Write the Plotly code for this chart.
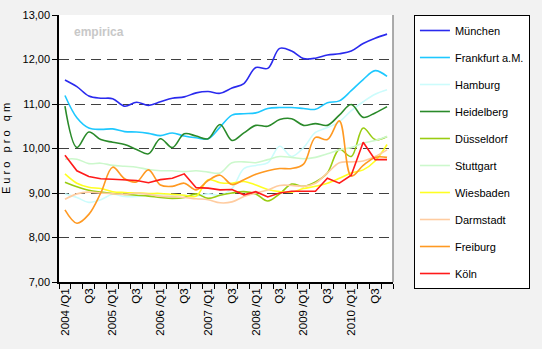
import plotly.graph_objects as go

years = [2004, 2005, 2006, 2007, 2008, 2009, 2010]
quarters = [f"{y}/Q{q}" for y in years for q in range(1, 5)]
tick_labels = [(f"{y} /Q1" if q == 1 else ("Q3" if q == 3 else "")) for y in years for q in range(1, 5)]

muenchen = [11.54, 11.39, 11.18, 11.13, 11.12, 10.95, 11.04, 10.97, 11.05, 11.13, 11.16, 11.25, 11.28, 11.24,
            11.36, 11.46, 11.82, 11.80, 12.25, 12.19, 12.02, 12.03, 12.10, 12.13, 12.19, 12.36, 12.48, 12.57]
frankfurt = [11.19, 10.69, 10.46, 10.43, 10.44, 10.38, 10.37, 10.34, 10.29, 10.35, 10.28, 10.24, 10.22, 10.48,
             10.75, 10.78, 10.80, 10.90, 10.92, 10.92, 10.90, 10.88, 11.03, 11.07, 11.30, 11.55, 11.75, 11.62]
hamburg = [8.98, 8.90, 8.79, 8.85, 8.97, 8.92, 8.92, 8.95, 8.97, 8.95, 8.95, 8.93, 8.98, 8.95,
           9.10, 9.55, 9.62, 9.68, 10.05, 9.82, 10.02, 10.36, 10.47, 10.60, 10.85, 11.05, 11.22, 11.32]
heidelberg = [10.95, 10.02, 10.37, 10.20, 10.14, 10.09, 9.98, 9.88, 10.22, 10.02, 10.33, 10.28, 10.22, 10.54,
              10.18, 10.35, 10.52, 10.50, 10.65, 10.67, 10.52, 10.56, 10.52, 10.75, 10.99, 10.70, 10.80, 10.94]
duesseldorf = [9.24, 9.14, 9.06, 9.02, 8.99, 8.97, 8.95, 8.93, 8.90, 8.88, 8.90, 8.98, 8.88, 8.95,
               9.00, 9.03, 8.98, 8.82, 8.98, 9.20, 9.15, 9.25, 9.45, 9.98, 9.82, 10.46, 10.20, 10.27]
stuttgart = [9.76, 9.76, 9.66, 9.67, 9.62, 9.60, 9.58, 9.53, 9.50, 9.50, 9.48, 9.50, 9.47, 9.45,
             9.68, 9.70, 9.68, 9.75, 9.82, 9.80, 9.77, 9.80, 9.88, 9.97, 10.02, 10.12, 10.18, 10.27]
wiesbaden = [9.43, 9.22, 9.13, 9.10, 9.03, 9.01, 9.00, 8.99, 8.99, 8.97, 8.95, 8.93, 9.30, 9.23,
             9.22, 9.26, 9.18, 9.08, 9.03, 9.02, 9.10, 9.15, 9.22, 9.33, 9.45, 9.52, 9.72, 10.09]
darmstadt = [8.86, 8.98, 9.02, 9.00, 8.98, 8.97, 9.00, 8.97, 8.93, 8.92, 8.90, 8.87, 8.85, 8.78,
             8.80, 8.92, 9.00, 9.07, 9.17, 9.17, 9.15, 9.22, 9.45, 9.68, 9.70, 9.72, 9.82, 9.97]
freiburg = [8.62, 8.32, 8.52, 9.00, 9.58, 9.32, 9.25, 9.52, 9.18, 9.15, 9.22, 9.07, 9.28, 9.40,
            9.19, 9.30, 9.42, 9.50, 9.55, 9.55, 9.65, 10.25, 10.20, 10.62, 9.38, 9.62, 9.80, 9.80]
koeln = [9.85, 9.50, 9.37, 9.32, 9.31, 9.30, 9.28, 9.23, 9.30, 9.33, 9.43, 9.12, 9.11, 9.07,
         9.08, 8.96, 9.03, 8.91, 9.00, 9.04, 9.04, 9.04, 9.33, 9.22, 9.40, 10.14, 9.75, 9.75]

series = [
    ("München", muenchen, "#2a2aee", "spline"),
    ("Frankfurt a.M.", frankfurt, "#1ec8ff", "spline"),
    ("Hamburg", hamburg, "#ccfcfc", "spline"),
    ("Heidelberg", heidelberg, "#2a8a2a", "spline"),
    ("Düsseldorf", duesseldorf, "#99cc11", "spline"),
    ("Stuttgart", stuttgart, "#ccf8cc", "spline"),
    ("Wiesbaden", wiesbaden, "#ffff22", "spline"),
    ("Darmstadt", darmstadt, "#ffcca0", "spline"),
    ("Freiburg", freiburg, "#ff9922", "spline"),
    ("Köln", koeln, "#ff1a1a", "linear"),
]

fig = go.Figure()
for name, vals, color, shape in series:
    fig.add_trace(go.Scatter(
        x=quarters, y=vals, name=name, mode="lines",
        line=dict(color=color, width=1.6, shape=shape, smoothing=1.0),
        legendgroup=name,
    ))

font = "Liberation Sans, Arial, sans-serif"
fig.update_layout(
    width=542, height=349,
    margin=dict(l=59, r=144, t=15, b=67),
    paper_bgcolor="#f2f2f2", plot_bgcolor="white",
    font=dict(family=font, size=11, color="black"),
    separators=",.",
    showlegend=True,
    legend=dict(
        x=1.41, xanchor="right", y=1.0, yanchor="top",
        bgcolor="white", bordercolor="black", borderwidth=1,
        font=dict(size=11, family=font), tracegroupgap=8,
        itemwidth=30, maxheight=330,
    ),
    xaxis=dict(
        type="category", tickmode="array", tickvals=quarters, ticktext=tick_labels,
        tickangle=-90, tickson="boundaries", ticks="outside", ticklen=5, tickcolor="black",
        showline=True, linecolor="black", linewidth=1.5, showgrid=False,
        tickfont=dict(size=11.5), range=[-0.5, 27.5], automargin=False,
    ),
    yaxis=dict(
        range=[7, 13], tickvals=[7, 8, 9, 10, 11, 12, 13], tickformat=".2f",
        showline=True, linecolor="black", linewidth=1.5,
        ticks="outside", ticklen=5, tickcolor="black",
        showgrid=True, gridcolor="#404040", gridwidth=1, griddash="10px,6px",
        zeroline=False, automargin=False,
        title=dict(text="E u r o   p r o   q m", font=dict(size=11), standoff=10),
    ),
    annotations=[dict(
        text="<b>empirica</b>", x=0.04, y=0.97, xref="paper", yref="paper",
        xanchor="left", yanchor="top", showarrow=False,
        font=dict(size=12, color="#c8c8c8", family=font),
    )],
    shapes=[dict(type="line", xref="paper", yref="paper", x0=1, x1=1, y0=0, y1=1,
                 line=dict(color="#909090", width=1.5))],
)

fig.write_html("out.html")
